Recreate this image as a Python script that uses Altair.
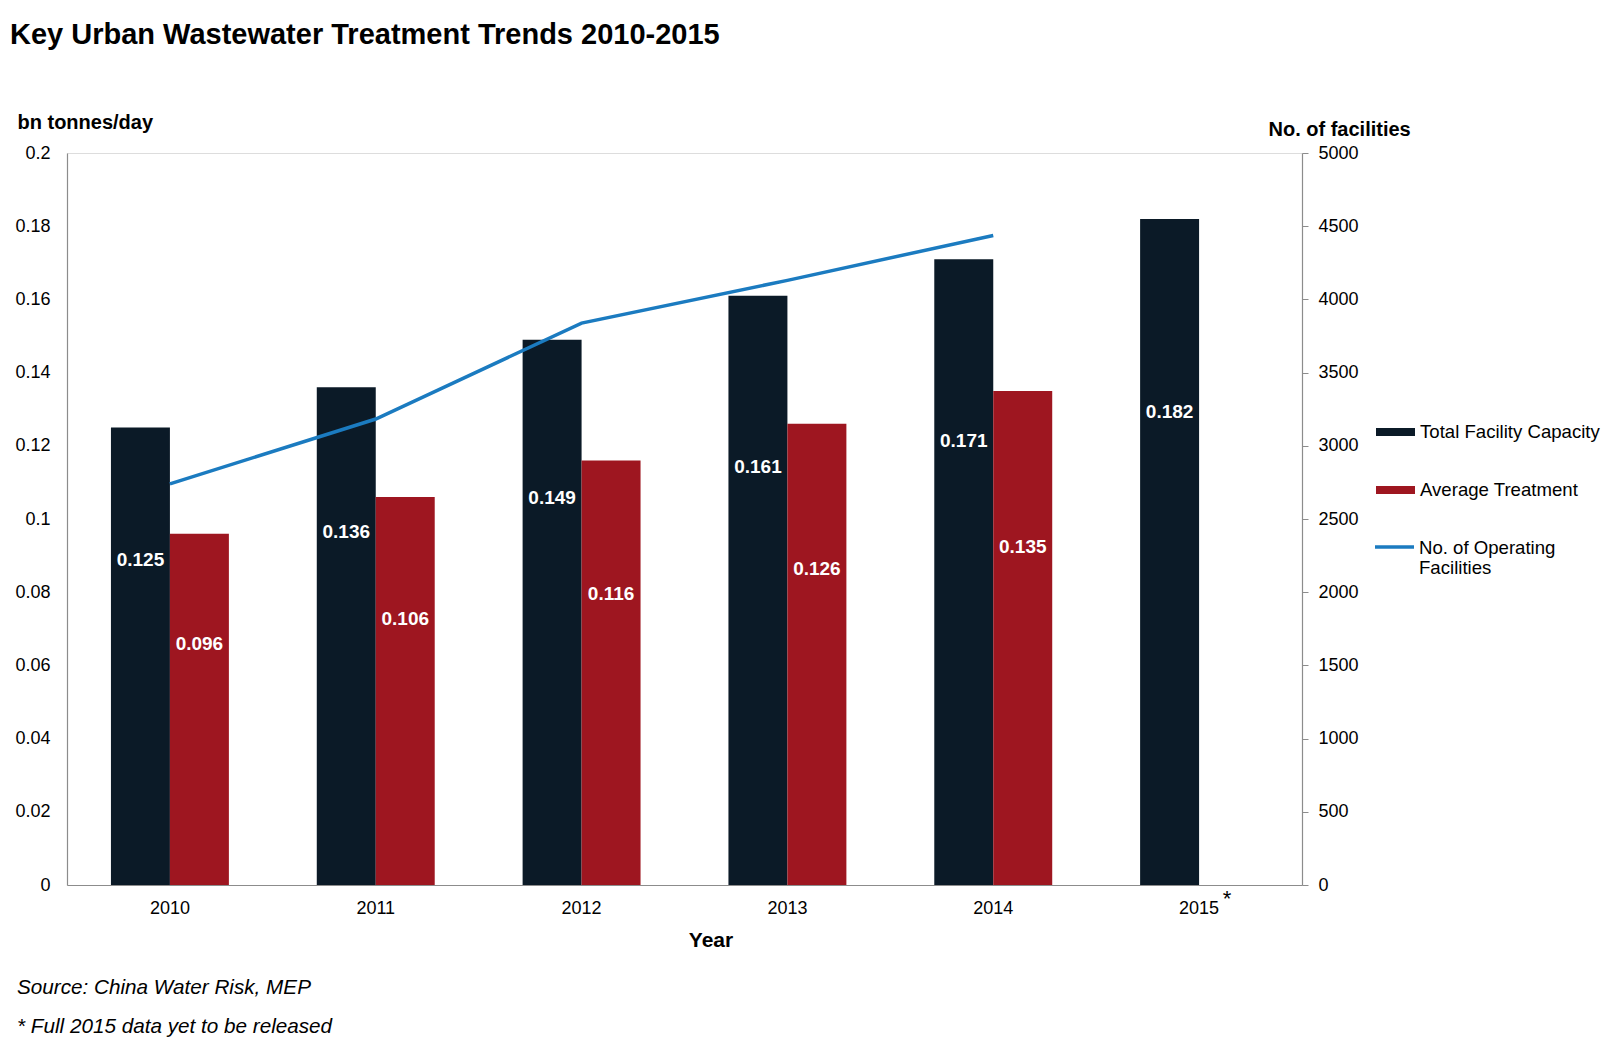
import altair as alt
import pandas as pd

FONT = "Liberation Sans"

title_text = "Key Urban Wastewater Treatment Trends 2010-2015"
source_text = "Source: China Water Risk, MEP"
note_text = "* Full 2015 data yet to be released"

years = ["2010", "2011", "2012", "2013", "2014", "2015"]
capacity = [0.125, 0.136, 0.149, 0.161, 0.171, 0.182]
treatment = [0.096, 0.106, 0.116, 0.126, 0.135, None]
line_years = ["2010", "2011", "2012", "2013", "2014"]
facilities = [2740, 3183, 3838, 4130, 4437]

series = ["Total Facility Capacity", "Average Treatment"]
line_name = "No. of Operating Facilities"
bar_colors = ["#0b1a27", "#9e1620"]
line_color = "#1b7bc0"

left_ticks = [0, 0.02, 0.04, 0.06, 0.08, 0.1, 0.12, 0.14, 0.16, 0.18, 0.2]
right_ticks = [0, 500, 1000, 1500, 2000, 2500, 3000, 3500, 4000, 4500, 5000]

rows = []
for yr, c, t in zip(years, capacity, treatment):
    rows.append({"year": yr, "series": series[0], "value": c})
    if t is not None:
        rows.append({"year": yr, "series": series[1], "value": t})
bars_df = pd.DataFrame(rows)
line_df = pd.DataFrame({"year": line_years, "facilities": facilities, "name": line_name})

x_enc = alt.X(
    "year:N",
    scale=alt.Scale(domain=years, paddingInner=0.427, paddingOuter=0.2135),
    axis=alt.Axis(
        title="Year", labelAngle=0, ticks=False, tickSize=0, labelPadding=14,
        labelFont=FONT, labelFontSize=18, labelColor="#000",
        titleFont=FONT, titleFontSize=21, titleFontWeight="bold", titleColor="#000",
        titleX=643.5, titleY=61, titleBaseline="alphabetic", titleAnchor="start",
        titleAlign="center",
        domainColor="#8c8c8c", domainWidth=1.2, grid=False,
    ),
)
xoff = alt.XOffset("series:N", scale=alt.Scale(domain=series, paddingInner=0, paddingOuter=0))

y_left = alt.Scale(domain=[0, 0.2], nice=False)
left_axis = alt.Axis(
    values=left_ticks, format="~g", title="bn tonnes/day", titleAngle=0,
    titleAlign="left", titleX=-50, titleY=-25, titleBaseline="alphabetic",
    titleFont=FONT, titleFontSize=20, titleFontWeight="bold", titleColor="#000",
    labelFont=FONT, labelFontSize=18, labelColor="#000",
    ticks=False, tickSize=0, labelPadding=17, grid=False,
    domainColor="#8c8c8c", domainWidth=1.2,
)

bars = alt.Chart(bars_df).mark_bar().encode(
    x=x_enc,
    xOffset=xoff,
    y=alt.Y("value:Q", scale=y_left, axis=left_axis),
    color=alt.Color(
        "series:N",
        scale=alt.Scale(domain=series, range=bar_colors),
        legend=alt.Legend(
            title=None, orient="none", legendX=1309, legendY=259.5, padding=0,
            symbolType="M-1,-0.2H1V0.2H-1Z", symbolSize=1521, symbolStrokeWidth=0,
            symbolOpacity=1, labelFont=FONT, labelFontSize=18.6, labelColor="#000",
            labelOffset=5, rowPadding=28, labelLimit=300, direction="vertical",
        ),
    ),
)

labels = alt.Chart(bars_df).transform_calculate(
    labelpos=f"datum.series == '{series[0]}' ? datum.value * 0.71 : datum.value * 0.685"
).mark_text(color="white", font=FONT, fontSize=19, fontWeight="bold").encode(
    x=x_enc,
    xOffset=xoff,
    y=alt.Y("labelpos:Q", scale=y_left, axis=left_axis),
    text=alt.Text("value:Q", format=".3f"),
)

line = alt.Chart(line_df).mark_line(strokeWidth=3.5).encode(
    x=x_enc,
    y=alt.Y(
        "facilities:Q",
        scale=alt.Scale(domain=[0, 5000], nice=False),
        axis=alt.Axis(
            orient="right", values=right_ticks, format="d", title="No. of facilities",
            titleAngle=0, titleAlign="left", titleX=-34, titleY=-18,
            titleBaseline="alphabetic", titleFont=FONT, titleFontSize=20,
            titleFontWeight="bold", titleColor="#000",
            labelFont=FONT, labelFontSize=18, labelColor="#000",
            tickSize=6, tickColor="#8c8c8c", labelPadding=10, grid=False,
            domainColor="#8c8c8c", domainWidth=1.2,
        ),
    ),
    stroke=alt.Stroke(
        "name:N",
        scale=alt.Scale(domain=[line_name], range=[line_color]),
        legend=alt.Legend(
            title=None, orient="none", legendX=1306, legendY=379, padding=0,
            symbolType="M-1,-0.33H1", symbolSize=1521, symbolStrokeWidth=3.5,
            symbolStrokeColor=line_color, symbolFillColor="transparent",
            labelFont=FONT, labelFontSize=18.6, labelColor="#000", labelOffset=3,
            labelLimit=300, labelBaseline="alphabetic",
            labelExpr="datum.label == 'No. of Operating Facilities' ? ['No. of Operating', 'Facilities'] : datum.label",
        ),
    ),
)

def note(txt, x, y, size, weight="normal", style="normal", align="left"):
    return alt.Chart(pd.DataFrame({"t": [txt]})).mark_text(
        align=align, baseline="alphabetic", font=FONT, fontSize=size,
        fontWeight=weight, fontStyle=style, color="#000",
    ).encode(x=alt.value(x), y=alt.value(y), text="t:N")

title_mark = note(title_text, -57, -109, 29, weight="bold")
source_mark = note(source_text, -50, 841, 20.7, style="italic")
note_mark = note(note_text, -50, 880, 20.7, style="italic")
star_mark = note("*", 1160, 753, 22, align="center")

left = alt.layer(bars, labels)
chart = alt.layer(left, line, title_mark, source_mark, note_mark, star_mark).resolve_scale(
    y="independent"
).properties(
    width=1235, height=732,
    autosize=alt.AutoSizeParams(type="none"),
    padding={"left": 59, "top": 145, "right": 300, "bottom": 154},
).configure_view(stroke=None).configure(background="white")

chart.save("out.html", embed_options={"renderer": "svg", "actions": False})
